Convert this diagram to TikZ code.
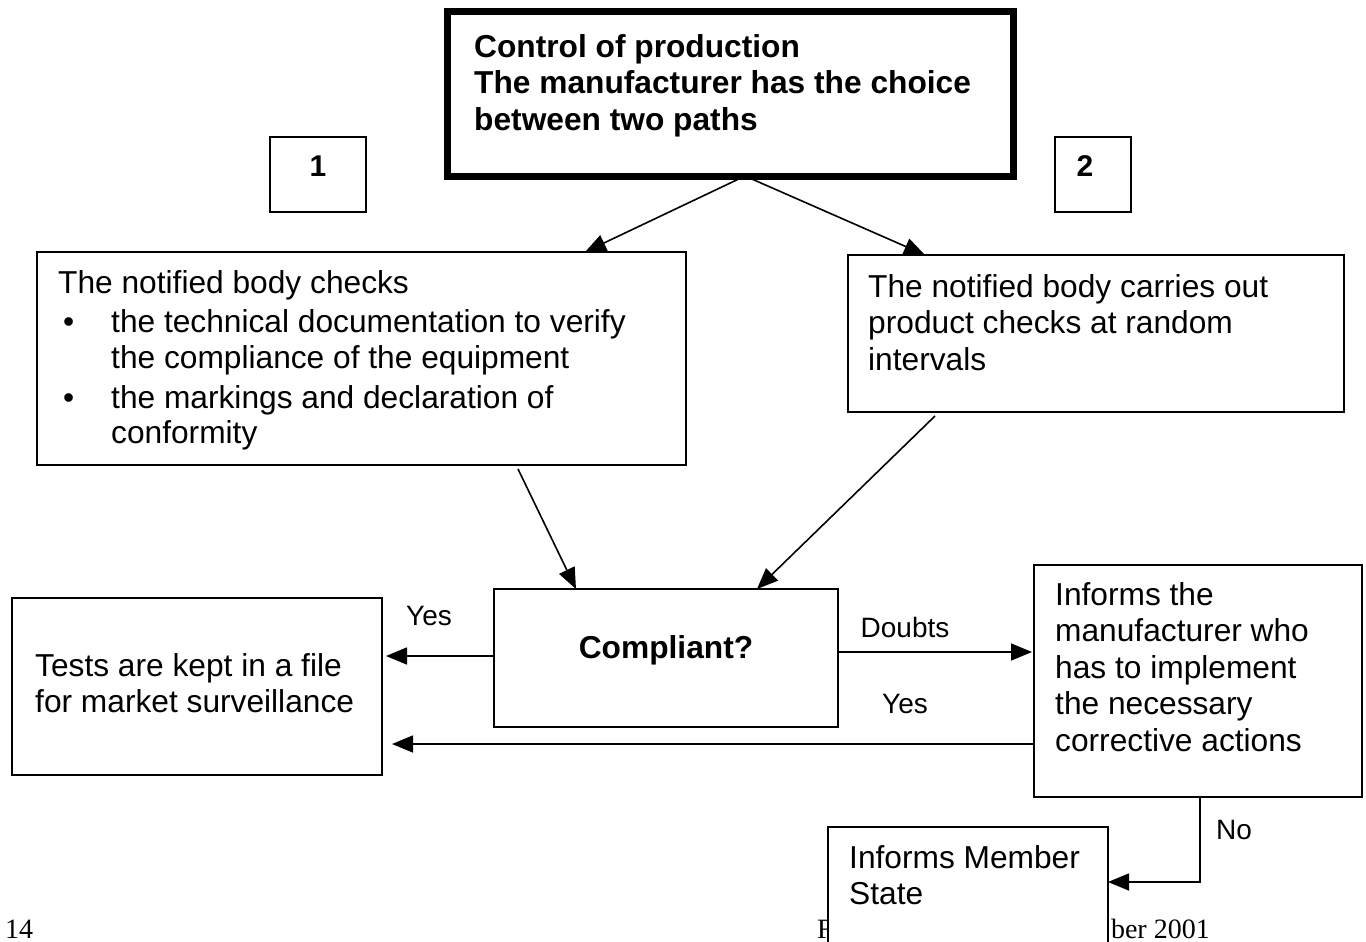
\documentclass[tikz,border=0pt]{standalone}
\usepackage{fontspec}
\setmainfont{Liberation Sans}
\newfontfamily\footserif{Liberation Serif}
\usetikzlibrary{arrows.meta,calc}
\begin{document}
\begin{tikzpicture}[x=1pt,y=-1pt,
  box/.style={draw, line width=1.6pt, rectangle, inner sep=0pt, outer sep=0pt, fill=white},
  txt/.style={anchor=base west, inner sep=0pt, align=left, font=\fontsize{31.7}{36.6}\selectfont},
  txtb/.style={anchor=base west, inner sep=0pt, align=left, font=\fontsize{31.7}{36.8}\selectfont\bfseries},
  lbl/.style={inner sep=0pt, font=\fontsize{28}{32}\selectfont},
  foot/.style={inner sep=0pt, font=\fontsize{28}{32}\selectfont\footserif},
  arr/.style={line width=1.6pt, -{Triangle[length=21pt,width=17pt]}},
  ln/.style={line width=1.6pt}]
\useasboundingbox (0,0) rectangle (1366,942);
\clip (0,0) rectangle (1366,942);
\fill[white] (0,0) rectangle (1366,942);

% top box (base anchor of a multi-line node = baseline of its last line)
\node[box, line width=7pt, minimum width=566pt, minimum height=164pt] (top) at (730,94) {};
\node[txtb] (toptext) at (474,130.6) {Control of production\\The manufacturer has the choice\\between two paths};

% path numbers
\node[box, minimum width=96pt, minimum height=75pt] (b1) at (318,174.5) {};
\node[lbl, font=\fontsize{30}{34}\selectfont\bfseries] (n1) at (318,166) {1};
\node[box, minimum width=76pt, minimum height=75pt] (b2) at (1093,174.5) {};
\node[lbl, font=\fontsize{30}{34}\selectfont\bfseries] (n2) at (1085,166) {2};

% left box
\node[box, minimum width=649pt, minimum height=213pt] (left) at (361.5,358.5) {};
\node[txt, font=\fontsize{31.7}{35.8}\selectfont] (lefttext) at (58,443.8) {The notified body checks\\[3.8pt]
\makebox[53pt][l]{\hspace{5pt}\textbullet}the technical documentation to verify\\
\hspace*{53pt}the compliance of the equipment\\[3.8pt]
\makebox[53pt][l]{\hspace{5pt}\textbullet}the markings and declaration of\\
\hspace*{53pt}conformity};

% right box
\node[box, minimum width=496pt, minimum height=157pt] (right) at (1096,333.5) {};
\node[txt] (righttext) at (868,370.2) {The notified body carries out\\product checks at random\\intervals};

% compliant
\node[box, minimum width=344pt, minimum height=138pt] (comp) at (666,658) {};
\node[lbl, font=\fontsize{31.7}{36}\selectfont\bfseries] (comptext) at (666,650) {Compliant?};

% tests
\node[box, minimum width=370pt, minimum height=177pt] (tests) at (197,686.5) {};
\node[txt] (teststext) at (35,712.6) {Tests are kept in a file\\for market surveillance};

% inform manufacturer
\node[box, minimum width=328pt, minimum height=232pt] (inform) at (1198,681) {};
\node[txt] (informtext) at (1055,751.4) {Informs the\\manufacturer who\\has to implement\\the necessary\\corrective actions};

% footer (partly covered)
\node[foot, anchor=base west] (pagenum) at (5,938) {14};
\node[foot, anchor=base west] (footF) at (817,938) {F};
\node[foot, anchor=base east] (footdate) at (1210,938) {ber 2001};

% member state
\node[box, minimum width=280pt, minimum height=140pt] (member) at (968,897) {};
\node[txt] (membertext) at (849,904.6) {Informs Member\\State};

% connectors
\draw[arr] ($(top.south)+(15,0)$) -- ($(left.north)+(223.5,0)$);
\draw[arr] ($(top.south)+(15,0)$) -- ($(right.north)+(-171,0)$);
\draw[arr] ($(left.south)+(156.5,4)$) -- ($(comp.north)+(-90,0)$);
\draw[arr] ($(right.south)+(-161,4)$) -- ($(comp.north)+(91,0)$);
\draw[arr] ($(comp.west)+(0,-2)$) -- ($(tests.east)+(4,-30.5)$);
\draw[arr] ($(comp.east)+(0,-6)$) -- ($(inform.west)+(-2,-29)$);
\draw[arr] ($(inform.west)+(0,63)$) -- ($(tests.east)+(10,57.5)$);
\draw[arr] ($(inform.south)+(2,0)$) |- ($(member.east)+(0,-15)$);

% labels
\node[lbl] (yes1) at (429,616) {Yes};
\node[lbl] (doubts) at (905,627) {Doubts};
\node[lbl] (yes2) at (905,704) {Yes};
\node[lbl] (no) at (1234,830) {No};
\end{tikzpicture}
\end{document}
